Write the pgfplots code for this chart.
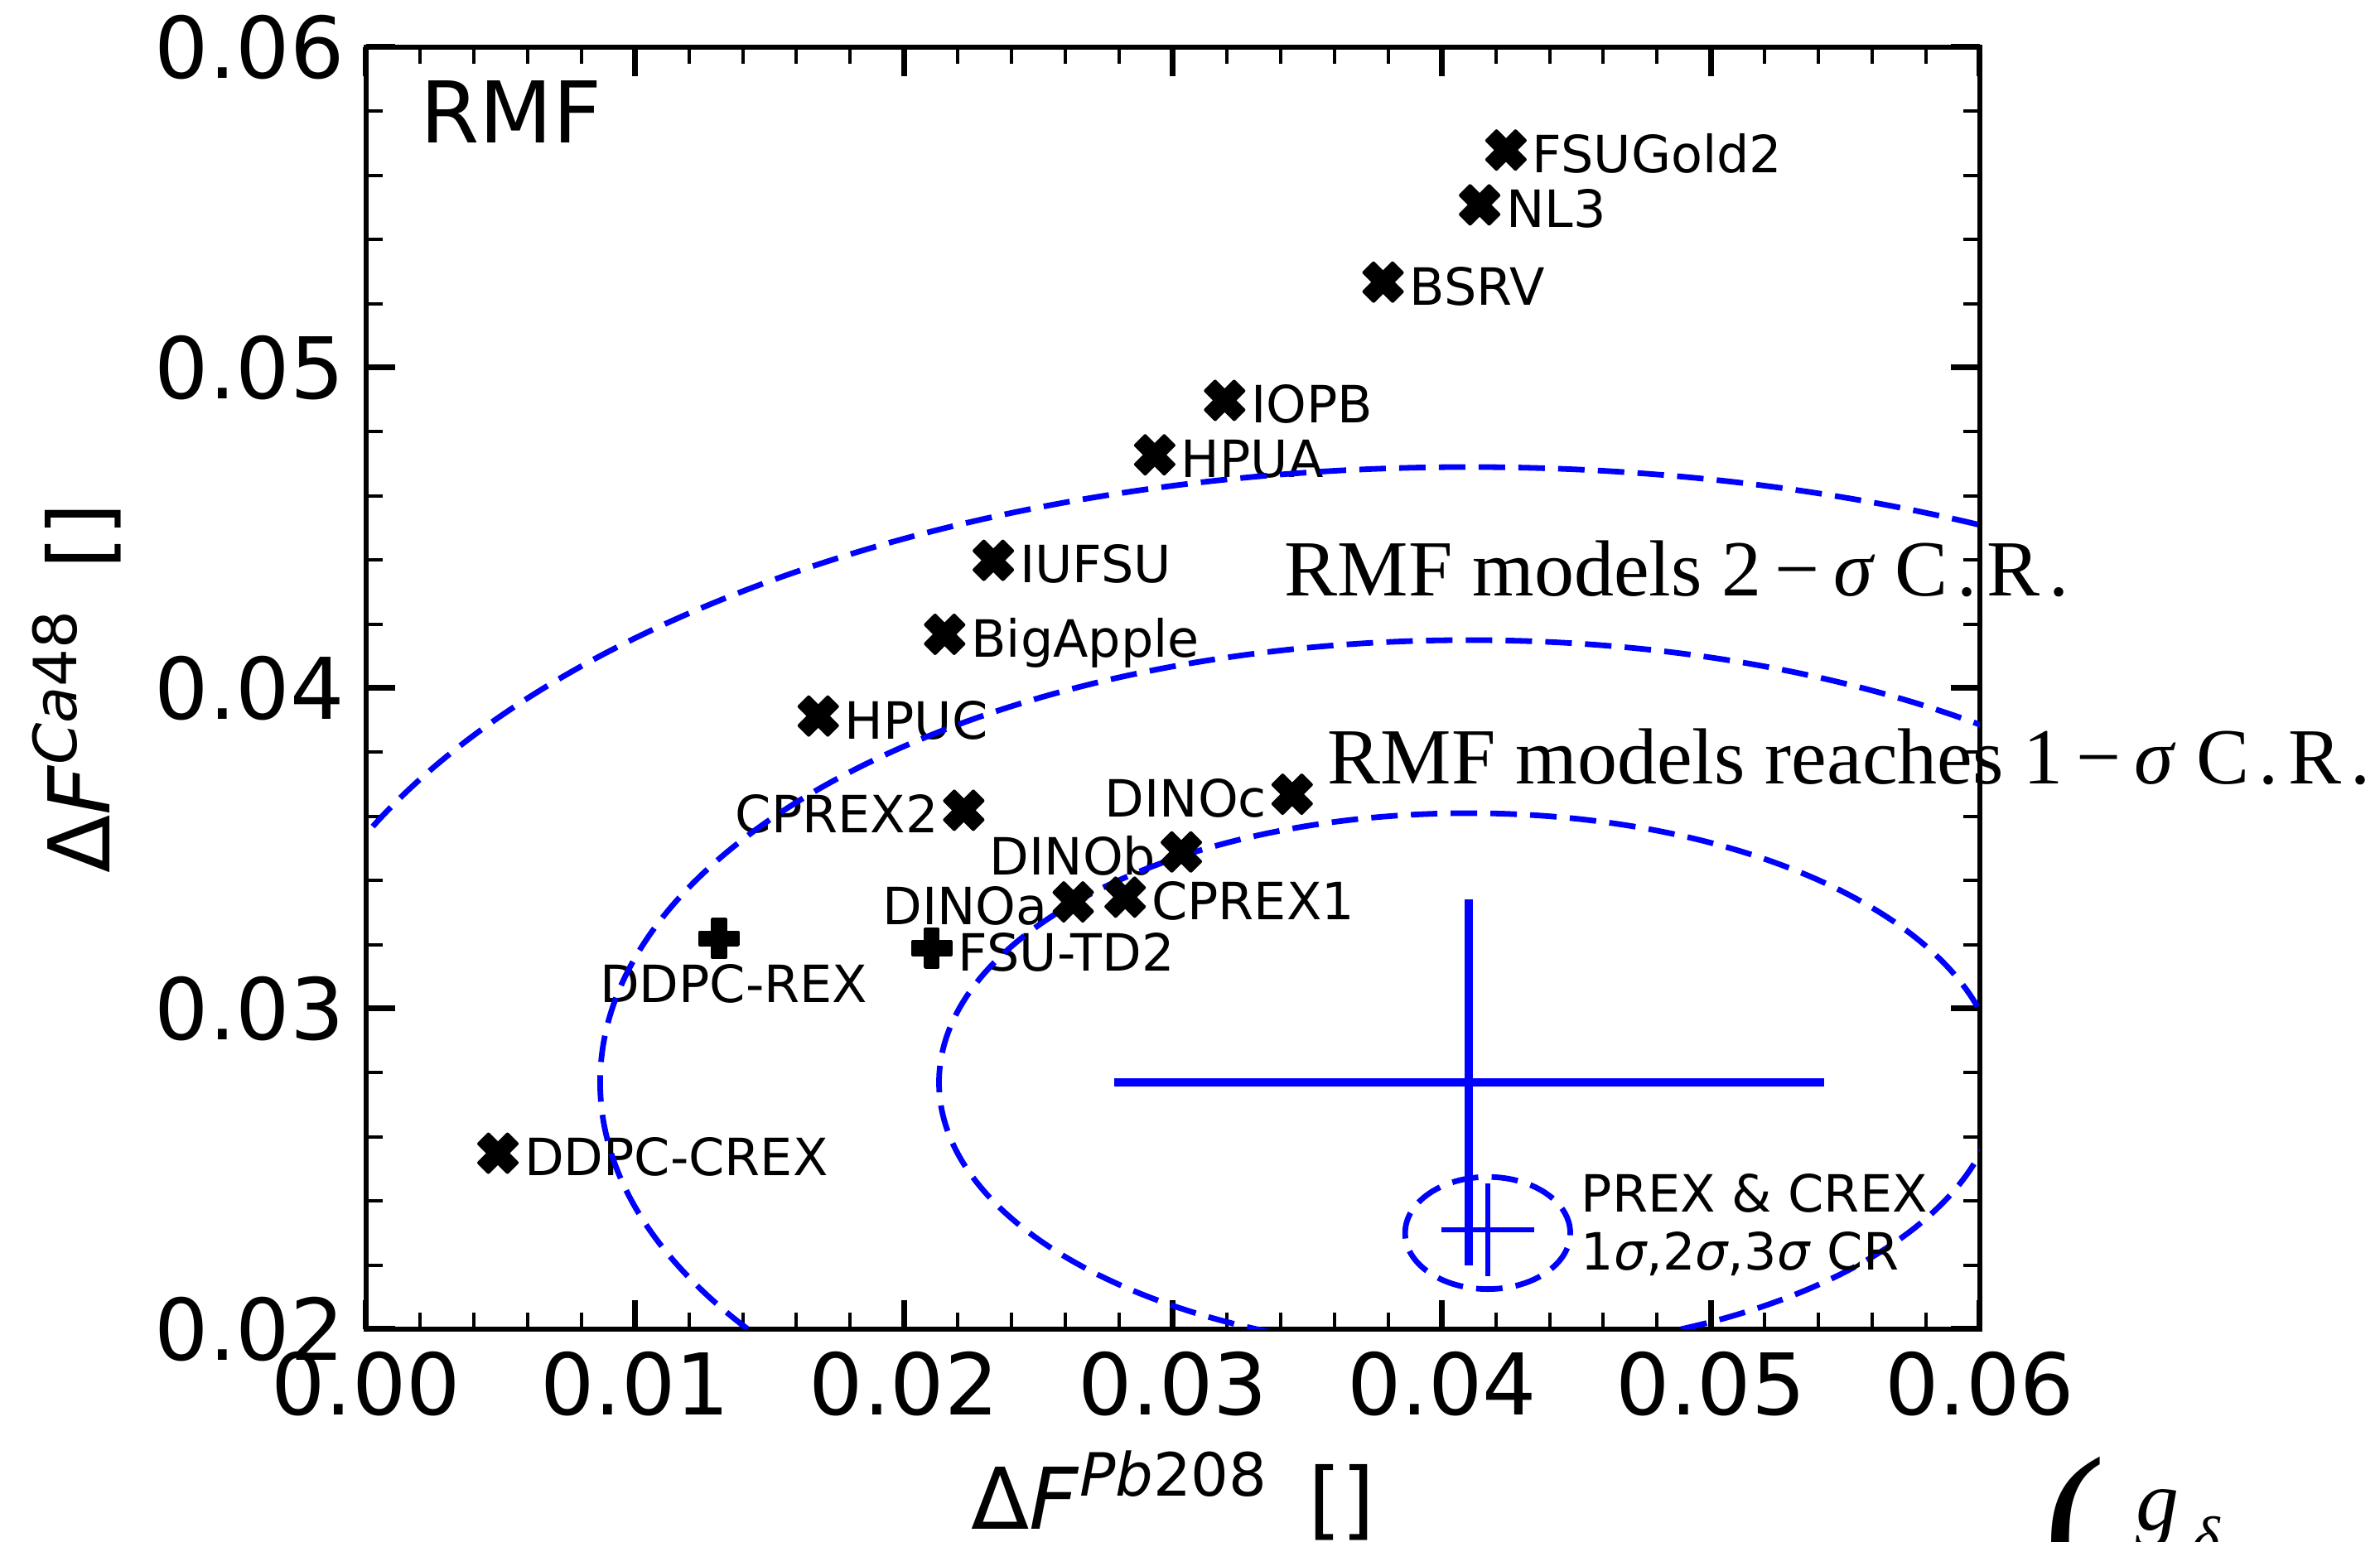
\documentclass[border=0pt]{standalone}
\usepackage{fontspec}
\setmainfont{DejaVu Sans}
\newfontfamily\serif{Liberation Serif}
\usepackage{pgfplots}
\pgfplotsset{compat=1.18}

% filled "X" marker
\pgfdeclareplotmark{Xfilled}{%
  \pgfpathmoveto{\pgfqpoint{-0.25\pgfplotmarksize}{-0.5\pgfplotmarksize}}%
  \pgfpathlineto{\pgfqpoint{0pt}{-0.25\pgfplotmarksize}}%
  \pgfpathlineto{\pgfqpoint{0.25\pgfplotmarksize}{-0.5\pgfplotmarksize}}%
  \pgfpathlineto{\pgfqpoint{0.5\pgfplotmarksize}{-0.25\pgfplotmarksize}}%
  \pgfpathlineto{\pgfqpoint{0.25\pgfplotmarksize}{0pt}}%
  \pgfpathlineto{\pgfqpoint{0.5\pgfplotmarksize}{0.25\pgfplotmarksize}}%
  \pgfpathlineto{\pgfqpoint{0.25\pgfplotmarksize}{0.5\pgfplotmarksize}}%
  \pgfpathlineto{\pgfqpoint{0pt}{0.25\pgfplotmarksize}}%
  \pgfpathlineto{\pgfqpoint{-0.25\pgfplotmarksize}{0.5\pgfplotmarksize}}%
  \pgfpathlineto{\pgfqpoint{-0.5\pgfplotmarksize}{0.25\pgfplotmarksize}}%
  \pgfpathlineto{\pgfqpoint{-0.25\pgfplotmarksize}{0pt}}%
  \pgfpathlineto{\pgfqpoint{-0.5\pgfplotmarksize}{-0.25\pgfplotmarksize}}%
  \pgfpathclose
  \pgfusepathqfillstroke
}
% filled "+" marker
\pgfdeclareplotmark{Pfilled}{%
  \pgfpathmoveto{\pgfqpoint{-0.16667\pgfplotmarksize}{-0.5\pgfplotmarksize}}%
  \pgfpathlineto{\pgfqpoint{0.16667\pgfplotmarksize}{-0.5\pgfplotmarksize}}%
  \pgfpathlineto{\pgfqpoint{0.16667\pgfplotmarksize}{-0.16667\pgfplotmarksize}}%
  \pgfpathlineto{\pgfqpoint{0.5\pgfplotmarksize}{-0.16667\pgfplotmarksize}}%
  \pgfpathlineto{\pgfqpoint{0.5\pgfplotmarksize}{0.16667\pgfplotmarksize}}%
  \pgfpathlineto{\pgfqpoint{0.16667\pgfplotmarksize}{0.16667\pgfplotmarksize}}%
  \pgfpathlineto{\pgfqpoint{0.16667\pgfplotmarksize}{0.5\pgfplotmarksize}}%
  \pgfpathlineto{\pgfqpoint{-0.16667\pgfplotmarksize}{0.5\pgfplotmarksize}}%
  \pgfpathlineto{\pgfqpoint{-0.16667\pgfplotmarksize}{0.16667\pgfplotmarksize}}%
  \pgfpathlineto{\pgfqpoint{-0.5\pgfplotmarksize}{0.16667\pgfplotmarksize}}%
  \pgfpathlineto{\pgfqpoint{-0.5\pgfplotmarksize}{-0.16667\pgfplotmarksize}}%
  \pgfpathlineto{\pgfqpoint{-0.16667\pgfplotmarksize}{-0.16667\pgfplotmarksize}}%
  \pgfpathclose
  \pgfusepathqfillstroke
}

\newcommand\bigfnt{\fontsize{25.7}{30}\selectfont}
\newcommand\lab{\fontsize{15.5}{18}\selectfont}
\newcommand\suptext[1]{\raisebox{10pt}{\fontsize{18}{20}\selectfont #1}}

\tikzset{
  rl/.style={anchor=base west, inner sep=0pt, xshift=7.8pt, yshift=-6.85pt, font=\lab},
  ll/.style={anchor=base east, inner sep=0pt, xshift=-7.5pt, yshift=-6.85pt, font=\lab},
  cr/.style={blue, line width=1.7pt, dash pattern=on 8pt off 4pt},
}

\begin{document}
\begin{tikzpicture}
\begin{axis}[
  at={(0pt,0pt)}, anchor=south west,
  scale only axis, width=487pt, height=387pt,
  xmin=0, xmax=0.06, ymin=0.02, ymax=0.06,
  xtick={0,0.01,0.02,0.03,0.04,0.05,0.06},
  ytick={0.02,0.03,0.04,0.05,0.06},
  minor tick num=4,
  tick align=inside, tick pos=both,
  major tick length=8.75pt, minor tick length=5pt,
  major tick style={line width=1.75pt, black},
  minor tick style={line width=1pt, black},
  axis line style={line width=1.5pt, black},
  scaled ticks=false,
  /pgf/number format/assume math mode=true,
  /pgf/number format/fixed, /pgf/number format/fixed zerofill,
  /pgf/number format/precision=2,
  tick label style={font=\bigfnt},
  xticklabel style={inner sep=0pt, yshift=-6.7pt},
  yticklabel style={inner sep=0pt, xshift=-6.4pt},
  xlabel={Δ\textit{F}\suptext{\textit{Pb}208} \,[]},
  ylabel={Δ\textit{F}\suptext{\textit{Ca}48} \,[]},
  every axis x label/.style={at={(axis description cs:0.5,-0.1563)}, anchor=base, inner sep=0pt, font=\bigfnt},
  every axis y label/.style={at={(axis description cs:-0.1591,0.5)}, rotate=90, anchor=base, inner sep=0pt, font=\bigfnt},
  clip=false,
]

% RMF parametrisations
\addplot[only marks, mark=Xfilled, mark size=11.5pt, black,
  mark options={fill=black, line join=round, line width=1pt}] coordinates {
  (0.04238,0.05679) % FSUGold2
  (0.04140,0.05508) % NL3
  (0.03781,0.05267) % BSRV
  (0.03192,0.04898) % IOPB
  (0.02932,0.04728) % HPUA
  (0.02332,0.04399) % IUFSU
  (0.02151,0.04168) % BigApple
  (0.01681,0.03913) % HPUC
  (0.02222,0.03619) % CPREX2
  (0.03443,0.03669) % DINOc
  (0.03031,0.03489) % DINOb
  (0.02629,0.03333) % DINOa
  (0.02822,0.03348) % CPREX1
  (0.00490,0.02549) % DDPC-CREX
};
\addplot[only marks, mark=Pfilled, mark size=11.5pt, black,
  mark options={fill=black, line join=round, line width=1pt}] coordinates {
  (0.01312,0.03219) % DDPC-REX
  (0.02103,0.03189) % FSU-TD2
};

\node[rl] at (axis cs:0.04238,0.05679) {FSUGold2};
\node[rl] at (axis cs:0.04140,0.05508) {NL3};
\node[rl] at (axis cs:0.03781,0.05267) {BSRV};
\node[rl] at (axis cs:0.03192,0.04898) {IOPB};
\node[rl] at (axis cs:0.02932,0.04728) {HPUA};
\node[rl] at (axis cs:0.02332,0.04399) {IUFSU};
\node[rl] at (axis cs:0.02151,0.04168) {BigApple};
\node[rl] at (axis cs:0.01681,0.03913) {HPUC};
\node[ll] at (axis cs:0.02222,0.03619) {CPREX2};
\node[ll] at (axis cs:0.03443,0.03669) {DINOc};
\node[ll] at (axis cs:0.03031,0.03489) {DINOb};
\node[ll] at (axis cs:0.02629,0.03333) {DINOa};
\node[rl] at (axis cs:0.02822,0.03348) {CPREX1};
\node[rl] at (axis cs:0.00490,0.02549) {DDPC-CREX};
\node[rl] at (axis cs:0.02103,0.03189) {FSU-TD2};
\node[anchor=base, inner sep=0pt, xshift=4.45pt, yshift=-19.2pt, font=\lab]
  at (axis cs:0.01312,0.03219) {DDPC-REX};

% centre of the model distribution and the measurement
\addplot[blue, mark=none, forget plot,
  error bars/.cd, x dir=both, x explicit, y dir=both, y explicit,
  error mark=none, error bar style={draw=blue, line width=2.5pt, solid}]
  coordinates {(0.0410,0.0277) +- (0.0132,0.0057)};
\addplot[blue, mark=none, forget plot,
  error bars/.cd, x dir=both, x explicit, y dir=both, y explicit,
  error mark=none, error bar style={draw=blue, line width=1.6pt, solid}]
  coordinates {(0.0417,0.0231) +- (0.00173,0.00145)};

% confidence regions
\begin{scope}
  \clip (rel axis cs:0,0) rectangle (rel axis cs:1,1);
  \draw[cr] (axis cs:0.0410,0.0277) ellipse [x radius=0.0197, y radius=0.0084];
  \draw[cr] (axis cs:0.0410,0.0277) ellipse [x radius=0.0323, y radius=0.0138];
  \draw[cr] (axis cs:0.0410,0.0277) ellipse [x radius=0.0448, y radius=0.0192];
  \draw[cr] (axis cs:0.0417,0.0230) ellipse [x radius=0.00307, y radius=0.00175];
\end{scope}
\end{axis}

\node[anchor=base west, inner sep=0pt, font=\bigfnt] at (16.1pt,358pt) {RMF};
\node[anchor=base west, inner sep=0pt, font={\serif\fontsize{24}{28}\selectfont}] at (277pt,221.25pt)
  {RMF models 2\,−\,\textit{σ} C\hspace{0.12em}.\hspace{0.12em}R\hspace{0.12em}.};
\node[anchor=base west, inner sep=0pt, font={\serif\fontsize{24}{28}\selectfont}] at (290pt,164.6pt)
  {RMF models reaches 1\,−\,\textit{σ} C\hspace{0.12em}.\hspace{0.12em}R\hspace{0.12em}.};
\node[anchor=base west, inner sep=0pt, font=\lab] at (366.5pt,35.4pt) {PREX \& CREX};
\node[anchor=base west, inner sep=0pt, font=\lab] at (366.5pt,17.9pt) {1\textit{σ},2\textit{σ},3\textit{σ} CR};

% start of a formula below the plot
\node[anchor=base west, inner sep=0pt, font={\serif\fontsize{57}{60}\selectfont}] at (506pt,-78.25pt) {(};
\node[anchor=base west, inner sep=0pt, font={\serif\fontsize{26}{28}\selectfont\itshape}] at (534pt,-60.75pt) {g};
\node[anchor=base west, inner sep=0pt, font={\serif\fontsize{18}{20}\selectfont\itshape}] at (551pt,-69.25pt) {δ};

\pgfresetboundingbox
\path[use as bounding box] (-110.5pt,-64.25pt) rectangle (607.75pt,401.25pt);
\end{tikzpicture}
\end{document}
